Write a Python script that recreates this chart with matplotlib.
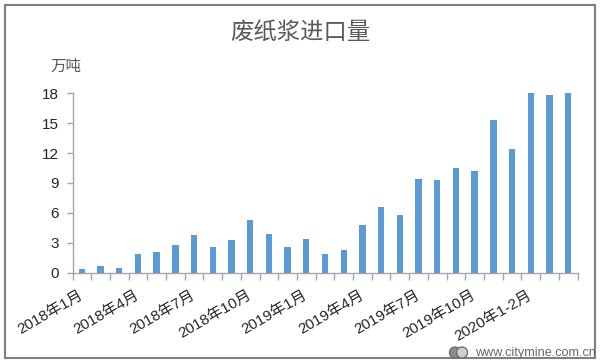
#!/usr/bin/env python3
import matplotlib
matplotlib.use("Agg")
import matplotlib.pyplot as plt
import matplotlib.patches as patches
import numpy as np

plt.rcParams['font.family'] = ['Liberation Sans', 'Noto Sans CJK SC']

# Values
months = ["2018年1月", "2018年2月", "2018年3月", "2018年4月", "2018年5月", "2018年6月",
          "2018年7月", "2018年8月", "2018年9月", "2018年10月", "2018年11月", "2018年12月",
          "2019年1月", "2019年2月", "2019年3月", "2019年4月", "2019年5月", "2019年6月",
          "2019年7月", "2019年8月", "2019年9月", "2019年10月", "2019年11月", "2019年12月",
          "2020年1-2月", "2020年3月", "2020年4月"]
imports = [0.4, 0.7, 0.5, 1.9, 2.1, 2.8, 3.8, 2.6, 3.3, 5.3, 3.9, 2.6,
           3.4, 1.9, 2.3, 4.8, 6.6, 5.8, 9.4, 9.3, 10.5, 10.2, 15.3, 12.4,
           18.0, 17.8, 18.0]
y_ticks = [0, 3, 6, 9, 12, 15, 18]

W, H = 602, 363
fig = plt.figure(figsize=(W / 100, H / 100), dpi=100, facecolor='white')

# Axes placed in pixels
left, right, top, bottom = 72.5, 577.5, 93.3, 272.7
ax = fig.add_axes([left / W, 1 - bottom / H, (right - left) / W, (bottom - top) / H])

x = np.arange(len(months))
ax.bar(x, imports, width=0.34, color='#5B9BD5', zorder=3)

ax.set_xlim(-0.5, len(months) - 0.5)
ax.set_ylim(0, 18)
ax.set_yticks(y_ticks)
ax.set_yticklabels([str(v) for v in y_ticks], fontsize=11, color='#262626')
ax.tick_params(axis='y', length=4, width=1, color='#A6A6A6', pad=6)

# Ticks sit between the bars, labels every third month
ax.set_xticks(np.arange(len(months) + 1) - 0.5)
ax.set_xticklabels([])
ax.tick_params(axis='x', length=5, width=1, color='#A6A6A6')
for i in range(0, len(months), 3):
    ax.annotate(months[i], xy=(i, 0), xycoords=('data', 'axes fraction'),
                xytext=(-2.5, -11), textcoords='offset points',
                rotation=30, rotation_mode='anchor', ha='right', va='top',
                fontsize=11, color='#262626')

for s in ['top', 'right']:
    ax.spines[s].set_visible(False)
for s in ['left', 'bottom']:
    ax.spines[s].set_color('#A6A6A6')
    ax.spines[s].set_linewidth(1)

# Title and unit
fig.text(300 / W, 1 - 32 / H, "废纸浆进口量", fontsize=16.8, color='#595959',
         ha='center', va='center')
fig.text(66 / W, 1 - 66 / H, "万吨", fontsize=11.2, color='#595959',
         ha='center', va='center')

# Outer border
fig.add_artist(patches.Rectangle((5 / W, 1 - 358 / H), 590 / W, 353 / H,
                                 transform=fig.transFigure, fill=False,
                                 edgecolor='#7F7F7F', linewidth=1.5))

# Watermark
fig.add_artist(patches.Ellipse((455 / W, 1 - 352.5 / H), 11 / W, 11 / H,
                               transform=fig.transFigure, facecolor='#8C8C8C',
                               edgecolor='#6E6E6E', linewidth=1))
fig.add_artist(patches.Ellipse((462 / W, 1 - 352.5 / H), 11 / W, 11 / H,
                               transform=fig.transFigure, facecolor='#D0D0D0',
                               edgecolor='#6E6E6E', linewidth=1))
fig.text(475 / W, 1 - 353 / H, "www.citymine.com.cn", fontsize=9.1, color='#666666',
         ha='left', va='center')

plt.savefig("out.png", dpi=100)
